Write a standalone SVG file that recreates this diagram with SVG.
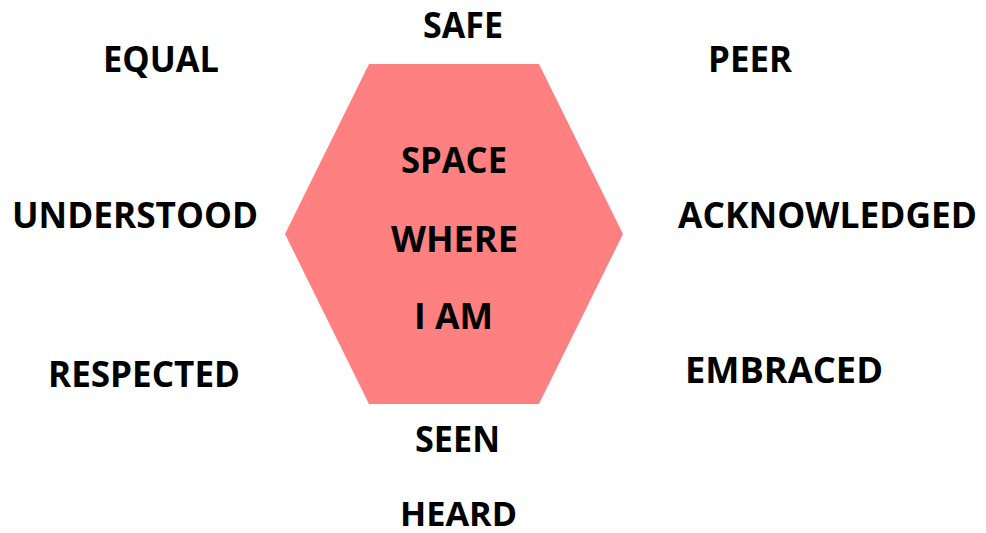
<svg xmlns="http://www.w3.org/2000/svg" width="986" height="533" viewBox="0 0 986 533">
<style>
text{font-family:"Open Sans","Liberation Sans",sans-serif;font-weight:bold;font-size:35px;fill:#000}
</style>
<rect width="986" height="533" fill="#fff"/>
<g id="hexagon">
<polygon points="369,64 539,64 623,234 539,404 369,404 285,234" fill="#FF8080"/>
<text x="401" y="173" textLength="106" lengthAdjust="spacingAndGlyphs">SPACE</text>
<text x="391" y="252" textLength="127" lengthAdjust="spacingAndGlyphs">WHERE</text>
<text x="414" y="329" textLength="79" lengthAdjust="spacingAndGlyphs">I AM</text>
</g>
<g id="safe"><text x="423" y="38" textLength="80" lengthAdjust="spacingAndGlyphs">SAFE</text></g>
<g id="equal"><text x="103" y="72" textLength="116" lengthAdjust="spacingAndGlyphs">EQUAL</text></g>
<g id="peer"><text x="708" y="72" textLength="84" lengthAdjust="spacingAndGlyphs">PEER</text></g>
<g id="understood"><text x="12" y="228" textLength="246" lengthAdjust="spacingAndGlyphs">UNDERSTOOD</text></g>
<g id="acknowledged"><text x="678" y="228" textLength="299" lengthAdjust="spacingAndGlyphs">ACKNOWLEDGED</text></g>
<g id="respected"><text x="48" y="387" textLength="192" lengthAdjust="spacingAndGlyphs">RESPECTED</text></g>
<g id="embraced"><text x="685" y="383" textLength="198" lengthAdjust="spacingAndGlyphs">EMBRACED</text></g>
<g id="seen"><text x="415" y="452" textLength="85" lengthAdjust="spacingAndGlyphs">SEEN</text></g>
<g id="heard"><text x="400" y="526" textLength="117" lengthAdjust="spacingAndGlyphs" style="font-size:34px">HEARD</text></g>
<g id="connectors"></g>
</svg>
